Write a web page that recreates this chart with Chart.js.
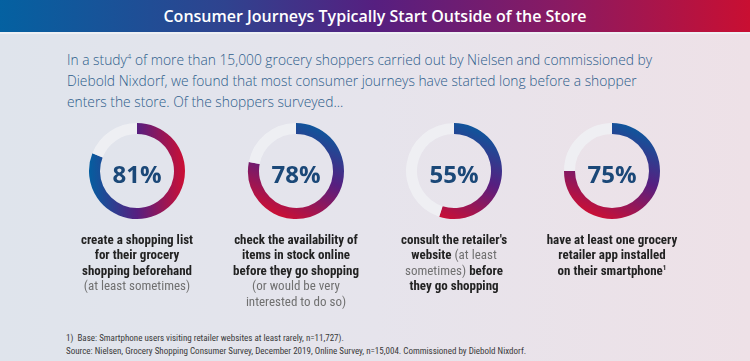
<!DOCTYPE html>
<html>
<head>
<meta charset="utf-8">
<script src="https://cdn.jsdelivr.net/npm/chart.js@4.4.1/dist/chart.umd.min.js"></script>
<style>
	html, body { margin: 0; padding: 0; }
	body {
		width: 750px; height: 361px; overflow: hidden; position: relative;
		background: linear-gradient(to right, #dfe4ec 0%, #e6e4ec 50%, #eee1e7 100%);
		font-family: "Open Sans", sans-serif;
	}
	.header {
		position: absolute; left: 0; top: 0; width: 750px; height: 32px;
		background: linear-gradient(to right, #0461a1 0%, #2f438f 30%, #561f80 50%, #8a1a62 75%, #c90f32 100%);
		border-bottom: 2px solid #eef0f4;
		color: #fff; text-align: center; font-size: 16px; font-weight: 600; line-height: 32px;
	}
	.intro {
		position: absolute; left: 67px; top: 49px; width: 670px;
		color: #2d5d8b; font-size: 13.8px; font-weight: 300; line-height: 21px;
	}
	.intro sup { font-size: 8px; vertical-align: 6px; line-height: 0; }
	.ring { position: absolute; width: 100px; height: 100px; }
	.ring canvas { position: absolute; left: 0; top: 0; }
	.pct {
		position: absolute; left: 0; top: 3px; width: 100px; height: 100px; line-height: 100px;
		text-align: center; color: #1b4878; font-size: 24px; font-weight: 700;
	}
	.label {
		position: absolute; width: 170px; text-align: center;
		font-family: "Liberation Sans Narrow", "Roboto Condensed", "DejaVu Sans Condensed", sans-serif;
		font-size: 13px; font-weight: 700; line-height: 15.4px; color: #222;
	}
	.label .n { font-weight: 400; color: #707070; }
	.label sup { font-size: 7px; vertical-align: 5px; line-height: 0; }
	.notes {
		position: absolute; left: 66px; top: 332px;
		font-family: "Liberation Sans Narrow", "Roboto Condensed", "DejaVu Sans Condensed", sans-serif;
		font-size: 9px; line-height: 13px; color: #3a3a3a;
	}
</style>
</head>
<body>

<div class="header">Consumer Journeys Typically Start Outside of the Store</div>

<div class="intro">
	In a study<sup>4</sup> of more than 15,000 grocery shoppers carried out by Nielsen and commissioned by<br>
	Diebold Nixdorf, we found that most consumer journeys have started long before a shopper<br>
	enters the store. Of the shoppers surveyed...
</div>

<div id="rings"></div>

<div class="notes">
	1)&nbsp; Base: Smartphone users visiting retailer websites at least rarely, n=11,727).<br>
	Source: Nielsen, Grocery Shopping Consumer Survey, December 2019, Online Survey, n=15,004. Commissioned by Diebold Nixdorf.
</div>

<script>
// share of shoppers for each statement
const percentages = [81, 78, 55, 75];

// text under each ring, one entry per line ( .n = the grey note part )
const captions = [
	["create a shopping list", "for their grocery", "shopping beforehand", "<span class='n'>(at least sometimes)</span>"],
	["check the availability of", "items in stock online", "before they go shopping", "<span class='n'>(or would be very</span>", "<span class='n'>interested to do so)</span>"],
	["consult the retailer's", "website <span class='n'>(at least</span>", "<span class='n'>sometimes)</span> before", "they go shopping"],
	["have at least one grocery", "retailer app installed", "on their smartphone<sup>1</sup>"]
];

// layout of the four rings
var centersX = [137, 296, 454, 612];
var centerY = 171;
var gradientDir = ["horizontal", "vertical", "vertical", "vertical"];

var trackColor = "rgba(240,241,244,0.85)";

function ringGradient(chart, dir) {
	let area = chart.chartArea;
	if (!area) return "#561f80";
	let ctx = chart.ctx;
	let g;
	if (dir == "horizontal") {
		g = ctx.createLinearGradient(area.left, 0, area.right, 0);
	} else {
		g = ctx.createLinearGradient(area.right - 20, area.top, area.left + 35, area.bottom);
	}
	g.addColorStop(0, "#045ea0");
	g.addColorStop(0.5, "#561f80");
	g.addColorStop(1, "#cc0f34");
	return g;
}

let holder = document.getElementById("rings");

percentages.forEach((value, i) => {
	let box = document.createElement("div");
	box.className = "ring";
	box.style.left = (centersX[i] - 50) + "px";
	box.style.top = (centerY - 50) + "px";

	let canvas = document.createElement("canvas");
	canvas.width = 100;
	canvas.height = 100;
	box.appendChild(canvas);

	let pct = document.createElement("div");
	pct.className = "pct";
	pct.textContent = value + "%";
	box.appendChild(pct);

	holder.appendChild(box);

	let label = document.createElement("div");
	label.className = "label";
	label.style.left = (centersX[i] - 85) + "px";
	label.style.top = "232px";
	label.innerHTML = captions[i].join("<br>");
	holder.appendChild(label);

	new Chart(canvas.getContext("2d"), {
		type: "doughnut",
		data: {
			labels: ["yes", "rest"],
			datasets: [{
				data: [value, 100 - value],
				backgroundColor: c => c.dataIndex == 0 ? ringGradient(c.chart, gradientDir[i]) : trackColor,
				borderWidth: 0
			}]
		},
		options: {
			responsive: false,
			animation: false,
			events: [],
			cutout: 37,
			layout: { padding: 2 },
			plugins: { legend: { display: false }, tooltip: { enabled: false } }
		}
	});
});
</script>
</body>
</html>
